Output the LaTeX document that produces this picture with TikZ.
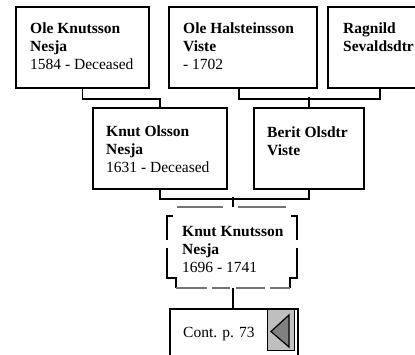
\documentclass[tikz,border=0pt]{standalone}
\usepackage{fontspec}
\setmainfont{Liberation Serif}
\begin{document}
\begin{tikzpicture}[x=1bp,y=-1bp,
  box/.style={draw, line width=1.9bp, inner sep=0, anchor=north west},
  lbl/.style={anchor=north west, inner sep=0, align=left, font=\fontsize{15.5bp}{18bp}\selectfont},
  wire/.style={line width=1.9bp},
  dside/.style={line width=1.7bp, black},
  dtop/.style={line width=1.7bp, black!55}]
\useasboundingbox (0,0) rectangle (415,355);
\clip (0,0) rectangle (415,355);
% boxes
\node[box, minimum width=133bp, minimum height=81bp] (b1) at (15,6) {};
\node[box, minimum width=148bp, minimum height=81bp] (b2) at (168,6) {};
\node[box, minimum width=104bp, minimum height=81bp] (b3) at (327,6) {};
\node[box, minimum width=134bp, minimum height=81bp] (ko) at (92,107) {};
\node[box, minimum width=110bp, minimum height=81bp] (be) at (253,107) {};
\node[inner sep=0, anchor=north west, minimum width=130bp, minimum height=81bp] (kk) at (167,207) {};
\node[box, minimum width=128bp, minimum height=70bp] (cont) at (169,308) {};
% texts
\node[lbl] (t1) at (30,22.5) {\textbf{Ole Knutsson}\\\textbf{Nesja}\\1584 - Deceased};
\node[lbl] (t2) at (183,22.5) {\textbf{Ole Halsteinsson}\\\textbf{Viste}\\- 1702};
\node[lbl] (t3) at (343,22.5) {\textbf{Ragnild}\\\textbf{Sevaldsdtr}};
\node[lbl] (t4) at (106,125.5) {\textbf{Knut Olsson}\\\textbf{Nesja}\\1631 - Deceased};
\node[lbl] (t5) at (267,126.5) {\textbf{Berit Olsdtr}\\\textbf{Viste}};
\node[lbl] (t6) at (182,226.5) {\textbf{Knut Knutsson}\\\textbf{Nesja}\\1696 - 1741};
\node[lbl, anchor=base west] (t7) at (183,337) {Cont. p. 73};
% dashed frame of the focus person
\draw[dtop] (177,207) -- (223,207) (238,207) -- (286,207);
\draw[dside] (173,216) -- (167,216) -- (167,240);
\draw[dside] (167,248) -- (167,278) -- (176,278) -- (176,288);
\draw[dside] (291,216) -- (297,216) -- (297,240);
\draw[dside] (297,248) -- (297,278) -- (290,278) -- (290,288);
\draw[dtop] (176,288) -- (207,288) (212,288) -- (230,288) (236,288) -- (265,288) (270,288) -- (290,288);
% continuation marker
\node[draw, line width=1.2bp, fill=black!25, inner sep=0, anchor=north west, minimum width=27bp, minimum height=41bp] (sq) at (267,309) {};
\draw[line width=1.2bp, fill=black!50] (271,331.5) -- (289,315) -- (289,347) -- cycle;
% connectors
\draw[wire] (b1.south) -- ++(0,10) -| (ko.north);
\draw[wire] ([xshift=-4bp]b2.south) -- ++(0,10) -| (b3.south);
\draw[wire] (be.north) -- ++(0,-10);
\draw[wire] (ko.south) -- ++(0,9) -| (be.south);
\draw[wire] ([xshift=1bp]kk.north) -- ++(0,-10);
\draw[wire] ([xshift=1bp]kk.south) -- ([xshift=1bp]kk.south |- cont.north);
\end{tikzpicture}
\end{document}
